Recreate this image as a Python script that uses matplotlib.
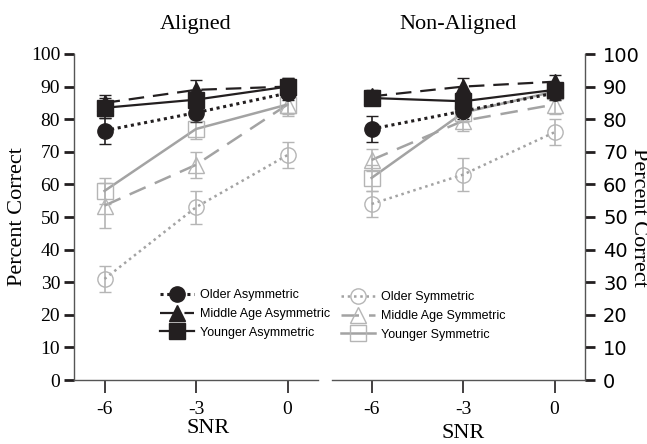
import matplotlib
matplotlib.use("Agg")
import matplotlib.pyplot as plt

SNR = [-6, -3, 0]

SERIES_NAMES = [
    "Older Asymmetric", "Middle Age Asymmetric", "Younger Asymmetric",
    "Older Symmetric", "Middle Age Symmetric", "Younger Symmetric",
]

# Aligned condition
aligned_older_asym = [76.5, 82, 88]
aligned_middle_asym = [85, 89, 90]
aligned_younger_asym = [83.5, 86, 90]
aligned_older_sym = [31, 53, 69]
aligned_middle_sym = [53.5, 66, 84.5]
aligned_younger_sym = [58, 77, 84.5]

aligned_older_asym_err = [4, 3, 2]
aligned_middle_asym_err = [2.5, 3, 2.5]
aligned_younger_asym_err = [3, 3, 2.5]
aligned_older_sym_err = [4, 5, 4]
aligned_middle_sym_err = [7, 4, 3.5]
aligned_younger_sym_err = [4, 3, 3]

# Non-aligned condition
nonaligned_older_asym = [77, 82.5, 88]
nonaligned_middle_asym = [87, 90, 91.5]
nonaligned_younger_asym = [86.5, 85.5, 89]
nonaligned_older_sym = [54, 63, 76]
nonaligned_middle_sym = [67.5, 79.5, 84.5]
nonaligned_younger_sym = [62, 82, 88.5]

nonaligned_older_asym_err = [4, 2.5, 2]
nonaligned_middle_asym_err = [2, 2.5, 2]
nonaligned_younger_asym_err = [2, 3, 2]
nonaligned_older_sym_err = [4, 5, 4]
nonaligned_middle_sym_err = [3.5, 3, 3]
nonaligned_younger_sym_err = [4, 3, 2.5]

BLACK = "#231f20"
GRAY_LINE = "#a3a3a3"
GRAY_MARK = "#b5b5b5"

SERIF = "Liberation Serif"
SANS = "Liberation Sans"

# style of each series: (marker, linestyle, color, filled, linewidth)
STYLES = [
    ("o", (0, (1, 1.2)), BLACK, True, 2.2),
    ("^", (0, (7, 4)), BLACK, True, 1.6),
    ("s", "-", BLACK, True, 1.6),
    ("o", (0, (1, 1.5)), GRAY_LINE, False, 1.8),
    ("^", (0, (7, 4)), GRAY_LINE, False, 1.8),
    ("s", "-", GRAY_LINE, False, 1.8),
]


def draw_panel(ax, values, errors):
    handles = {}
    # gray ones first, black on top
    for i in [3, 4, 5, 0, 1, 2]:
        marker, ls, color, filled, lw = STYLES[i]
        if filled:
            mfc, mec = color, color
        else:
            mfc, mec = "none", GRAY_MARK
        cont = ax.errorbar(SNR, values[i], yerr=errors[i], color=color, linestyle=ls,
                           linewidth=lw, marker=marker, markersize=11,
                           markerfacecolor=mfc, markeredgecolor=mec,
                           markeredgewidth=1.0, ecolor=color if filled else GRAY_MARK,
                           elinewidth=1.2, capsize=4, capthick=1.2)
        handles[i] = cont.lines[0]
    return [handles[i] for i in range(6)]


fig = plt.figure(figsize=(6.47, 4.44), dpi=100)

ax1 = fig.add_axes([74 / 647, 64 / 444, (318 - 74) / 647, (390 - 64) / 444])
ax2 = fig.add_axes([332 / 647, 64 / 444, (585 - 332) / 647, (390 - 64) / 444])

h1 = draw_panel(ax1,
                [aligned_older_asym, aligned_middle_asym, aligned_younger_asym,
                 aligned_older_sym, aligned_middle_sym, aligned_younger_sym],
                [aligned_older_asym_err, aligned_middle_asym_err, aligned_younger_asym_err,
                 aligned_older_sym_err, aligned_middle_sym_err, aligned_younger_sym_err])
h2 = draw_panel(ax2,
                [nonaligned_older_asym, nonaligned_middle_asym, nonaligned_younger_asym,
                 nonaligned_older_sym, nonaligned_middle_sym, nonaligned_younger_sym],
                [nonaligned_older_asym_err, nonaligned_middle_asym_err, nonaligned_younger_asym_err,
                 nonaligned_older_sym_err, nonaligned_middle_sym_err, nonaligned_younger_sym_err])

ax1.set_xlim(-7, 1)
ax2.set_xlim(-7.3, 1)

for ax in (ax1, ax2):
    ax.set_ylim(0, 100)
    ax.set_xticks(SNR)
    ax.set_xticklabels(["-6", "-3", "0"])
    ax.set_yticks(range(0, 101, 10))
    ax.spines["top"].set_visible(False)
    ax.tick_params(axis="x", direction="out", length=9, width=1.2, color=BLACK,
                   labelsize=14, pad=6)
    ax.tick_params(axis="y", direction="out", length=7, width=2, color=BLACK,
                   labelsize=14, pad=3)
    for lab in ax.get_xticklabels() + ax.get_yticklabels():
        lab.set_family(SERIF)
    for s in ax.spines.values():
        s.set_color("#555555")
        s.set_linewidth(1.0)

ax1.spines["right"].set_visible(False)
ax2.spines["left"].set_visible(False)
ax2.yaxis.tick_right()
ax2.tick_params(axis="y", pad=6)

ax1.set_title("Aligned", family=SERIF, fontsize=16, pad=18)
ax2.set_title("Non-Aligned", family=SERIF, fontsize=16, pad=18)

fig.text(208 / 647, 1 - 428 / 444, "SNR", family=SERIF, fontsize=16, ha="center", va="center")
fig.text(463 / 647, 1 - 433 / 444, "SNR", family=SERIF, fontsize=16, ha="center", va="center")
fig.text(18 / 647, 1 - 217 / 444, "Percent Correct", family=SERIF, fontsize=16,
         rotation=90, ha="center", va="center")
fig.text(639 / 647, 1 - 217 / 444, "Percent Correct", family=SERIF, fontsize=16,
         rotation=270, ha="center", va="center")

leg_kw = dict(loc="upper left", frameon=False, handlelength=2.7,
              handletextpad=0.5, labelspacing=0.55, borderpad=0, borderaxespad=0,
              numpoints=1, prop={"family": SANS, "size": 9})
fig.legend(h1[:3], SERIES_NAMES[:3], bbox_to_anchor=(160 / 647, 1 - 289 / 444), **leg_kw)
fig.legend(h2[3:], SERIES_NAMES[3:], bbox_to_anchor=(341 / 647, 1 - 291 / 444), **leg_kw)

fig.savefig("out.png", dpi=100)
